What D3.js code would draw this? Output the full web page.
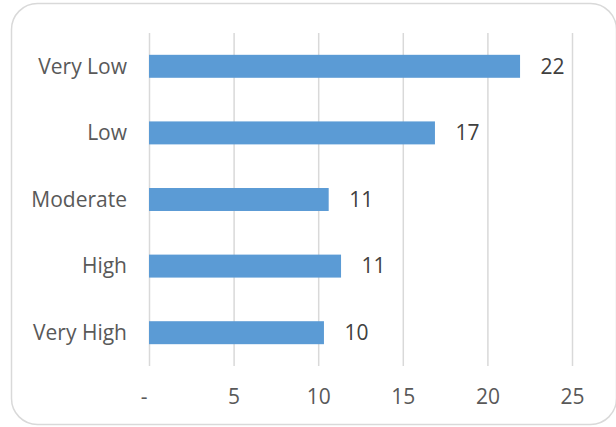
<!DOCTYPE html>
<html>
<head>
<meta charset="utf-8">
<script src="https://cdn.jsdelivr.net/npm/d3@7"></script>
<style>
  html, body { margin: 0; padding: 0; background: #ffffff; }
  svg { display: block; }
  text { font-family: "Open Sans", "Noto Sans", "DejaVu Sans", sans-serif; }
</style>
</head>
<body>
<svg id="chart" width="616" height="427"></svg>
<script>
const categories = ["Very Low", "Low", "Moderate", "High", "Very High"];
const values = [21.93, 16.9, 10.62, 11.35, 10.34];
const tickValues = [0, 5, 10, 15, 20, 25];
const tickLabels = ["-", "5", "10", "15", "20", "25"];

const W = 616, H = 427;
const plot = { left: 149, right: 572, top: 33, bottom: 366 };

const svg = d3.select("#chart");

// outer rounded border
svg.append("rect")
  .attr("x", 11.5).attr("y", 3.5)
  .attr("width", 605).attr("height", 421)
  .attr("rx", 26).attr("ry", 26)
  .attr("fill", "#ffffff")
  .attr("stroke", "#d9d9d9")
  .attr("stroke-width", 1.5);

const x = d3.scaleLinear().domain([0, 25]).range([plot.left, plot.right]);
const y = d3.scaleBand().domain(categories)
  .range([plot.top, plot.bottom])
  .paddingInner(0.655).paddingOuter(0.655 / 2);

// vertical gridlines
const xAxis = d3.axisBottom(x)
  .tickValues(tickValues)
  .tickSize(-(plot.bottom - plot.top))
  .tickFormat((d, i) => tickLabels[i]);

const gx = svg.append("g")
  .attr("transform", `translate(0,${plot.bottom})`)
  .call(xAxis);
gx.select(".domain").remove();
gx.selectAll(".tick line")
  .attr("stroke", "#d9d9d9")
  .attr("stroke-width", 1.5);
gx.selectAll(".tick text")
  .attr("y", 0)
  .attr("dy", 0)
  .attr("transform", "translate(0,38)")
  .attr("fill", "#595959")
  .attr("font-size", "21px")
  .attr("dx", (d, i) => i === 0 ? "-5.5" : "0");

// bars
svg.append("g").selectAll("rect")
  .data(categories)
  .join("rect")
  .attr("x", x(0))
  .attr("y", d => y(d))
  .attr("width", (d, i) => x(values[i]) - x(0))
  .attr("height", y.bandwidth())
  .attr("fill", "#5b9bd5");

// category labels
const yAxis = d3.axisLeft(y).tickSize(0).tickPadding(0);
const gy = svg.append("g")
  .attr("transform", `translate(${plot.left - 22},0)`)
  .call(yAxis);
gy.select(".domain").remove();
gy.selectAll(".tick text")
  .attr("fill", "#595959")
  .attr("font-size", "21px")
  .attr("dy", "0.35em");

// data labels
svg.append("g").selectAll("text")
  .data(categories)
  .join("text")
  .attr("x", (d, i) => x(values[i]) + 20.5)
  .attr("y", d => y(d) + y.bandwidth() / 2)
  .attr("dy", "0.35em")
  .attr("fill", "#404040")
  .attr("font-size", "21px")
  .text((d, i) => d3.format(".0f")(values[i]));
</script>
</body>
</html>
